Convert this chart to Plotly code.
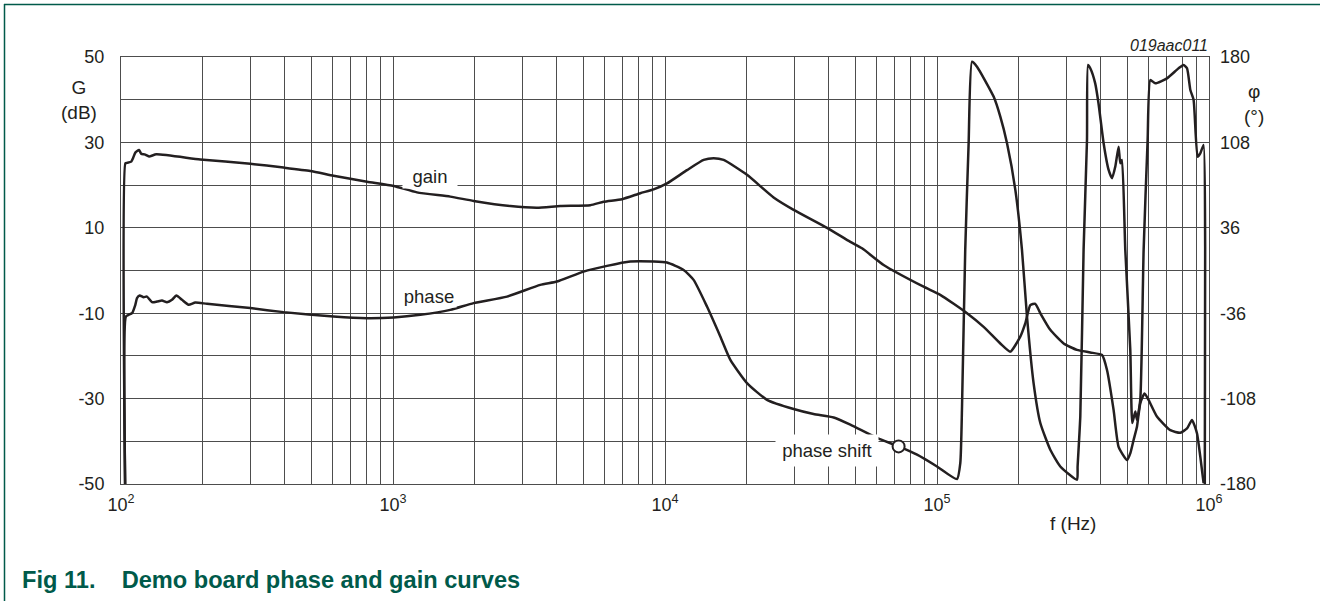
import plotly.graph_objects as go
import math

# ---- data ----
freq_gain = [103.5, 103.8, 105.2, 109.1, 110.7, 112.9, 116.5, 118.8, 122.1, 126.8,
             134.9, 195.6, 298.9, 396, 496.6, 604.7, 802.5, 1005, 1225, 1624,
             1978, 2700, 3384, 4123, 5314, 5948, 6948, 8114, 9081, 10171,
             12044, 13872, 15092, 16425, 20020, 25077, 29710, 39413, 48018, 53000,
             63640, 89270, 102800, 128950, 148400, 170900, 186000, 202400, 211100, 220300,
             229800, 239800, 260900, 292100, 327100, 366000, 404300, 421700, 446000, 465200,
             499400, 513600, 528100, 543500, 558900, 579600, 599500, 643500, 720700, 784500,
             830300, 866000, 903200, 928900, 955200]
gain_db = [-50, 25.1, 25.2, 25.5, 26.3, 27.6, 28.2, 27.3, 27.2, 26.7,
           27.2, 26.0, 25.0, 24.1, 23.3, 22.2, 20.8, 19.8, 18.3, 17.3,
           16.3, 15.1, 14.7, 15.1, 15.3, 16.1, 16.7, 18.1, 19.0, 20.4,
           23.5, 25.9, 26.3, 25.9, 22.4, 17.1, 14.2, 10.0, 6.7, 5.2,
           1.3, -3.8, -5.7, -10.0, -13.2, -17.1, -19.0, -15.5, -12.4, -8.1,
           -7.8, -10.0, -13.9, -17.1, -18.6, -19.2, -19.8, -23.3, -32.7, -41.3,
           -44.4, -42.8, -39.7, -36.6, -31.1, -28.8, -30.3, -34.2, -37.4, -38.0,
           -37.0, -35.0, -38.1, -43.6, -49.8]

freq_phase = [103.6, 104.2, 106.6, 109.8, 112.9, 114.5, 117.1, 121.1, 124.6, 130.0,
              135.6, 141.5, 147.6, 154.0, 159.7, 167.6, 177.3, 187.6, 207.2, 298.9,
              396, 604.7, 802.5, 1005, 1260, 1624, 1978, 2625, 3478, 4009,
              5018, 6120, 7455, 9081, 10171, 11709, 12740, 14270, 15970, 17390,
              20020, 23710, 29710, 35170, 41690, 48018, 60180, 72250, 84450, 100000,
              118450, 121800, 123600, 127000, 130700, 134500, 140300, 161500, 170900, 180900,
              194100, 205300, 214200, 226500, 239800, 260900, 284000, 327100, 328800, 336400,
              345900, 356000, 359000, 366000, 381600, 392400, 409800, 427500, 440000, 452400,
              465200, 471900, 478700, 492300, 513600, 522400, 535800, 543500, 558900, 575000,
              594800, 608500, 634800, 700800, 773200, 806600, 830300, 854000, 877900, 907800,
              928900, 955200, 968000, 965000]
phase_deg = [-180, -38.8, -37.4, -36, -28.9, -23.3, -21.1, -22.5, -22, -26.7,
             -26.2, -25.3, -26.7, -24.7, -21.1, -24.7, -28.9, -27, -28.1, -31.7,
             -35.1, -38.8, -40.2, -39.6, -37.4, -33.2, -27.5, -22, -12.1, -9.3,
             -0.9, 3.9, 7.6, 7.6, 6.7, 0.5, -7.9, -30.4, -55.6, -75.3,
             -94.9, -109, -116.8, -121, -123.9, -130, -141.2, -148.3, -155.3, -165.2,
             -175.8, -162.3, -114.6, 17.4, 107.3, 176, 171.8, 146.6, 129.7, 107.3,
             68, 17.4, -38.8, -94.9, -128.6, -151.1, -165.2, -176.4, -165.2, -123,
             17.4, 110, 173.3, 170.5, 157.8, 141, 107.3, 84.8, 77.8, 87.6,
             104.4, 90.4, 93.2, 17.4, -66.9, -128.6, -118.8, -125.8, -109, 17.4,
             110, 160.6, 157.8, 162, 170.5, 173.3, 170.5, 152.2, 143.8, 96,
             98.8, 105.9, 20, -180]

marker_index = 47  # "phase shift" marker point on the phase curve

decades = [100, 1000, 10000, 100000, 1000000]
x_tick_text = ["10<sup>2</sup>", "10<sup>3</sup>", "10<sup>4</sup>", "10<sup>5</sup>", "10<sup>6</sup>"]
gain_ticks = [-50, -40, -30, -20, -10, 0, 10, 20, 30, 40, 50]
gain_labels = ["-50", "", "-30", "", "-10", "", "10", "", "30", "", "50"]
phase_ticks = [-180, -108, -36, 36, 108, 180]
phase_labels = ["-180", "-108", "-36", "36", "108", "180"]

# ---- layout geometry ----
W, H = 1325, 601
ML, MR, MT, MB = 121, 116, 57, 117
PW, PH = W - ML - MR, H - MT - MB

def px(x):
    return (x - ML) / PW

def py(y):
    return (H - MB - y) / PH

FONT = "Liberation Sans, Arial, sans-serif"
INK = "#231f20"
GRID = "#4d4d4d"
GREEN = "#005a4a"
TICK = 18

x_vals = []
x_text = []
for i, d in enumerate(decades[:-1]):
    for m in range(1, 10):
        x_vals.append(d * m)
        x_text.append(x_tick_text[i] if m == 1 else "")
x_vals.append(decades[-1])
x_text.append(x_tick_text[-1])

LINE = dict(color=INK, width=2.5, shape="spline", smoothing=0.5)

fig = go.Figure()
fig.add_trace(go.Scatter(x=freq_gain, y=gain_db, mode="lines",
                         line=LINE, name="gain", showlegend=False))
fig.add_trace(go.Scatter(x=freq_phase, y=phase_deg, mode="lines", yaxis="y2",
                         line=LINE, name="phase", showlegend=False))
fig.add_trace(go.Scatter(x=[freq_phase[marker_index]], y=[phase_deg[marker_index]], yaxis="y2",
                         mode="markers", showlegend=False,
                         marker=dict(size=12, color="white", line=dict(color=INK, width=2))))

fig.update_layout(
    width=W, height=H,
    margin=dict(l=ML, r=MR, t=MT, b=MB, pad=0, autoexpand=False),
    paper_bgcolor="white", plot_bgcolor="white",
    font=dict(family=FONT, size=TICK, color=INK),
    showlegend=False,
    xaxis=dict(type="log", range=[2, 6], tickvals=x_vals, ticktext=x_text,
               showgrid=True, gridcolor=GRID, gridwidth=1,
               showline=True, linecolor=GRID, linewidth=1, mirror=True,
               ticks="", ticklabelstandoff=4, zeroline=False,
               tickfont=dict(size=TICK, color=INK)),
    yaxis=dict(range=[-50, 50], tickvals=gain_ticks, ticktext=gain_labels,
               showgrid=True, gridcolor=GRID, gridwidth=1,
               showline=True, linecolor=GRID, linewidth=1, mirror=True,
               ticks="", ticklabelstandoff=12, zeroline=False,
               tickfont=dict(size=TICK, color=INK)),
    yaxis2=dict(range=[-180, 180], tickvals=phase_ticks, ticktext=phase_labels,
                overlaying="y", side="right",
                showgrid=False, zeroline=False, showline=False, ticks="",
                ticklabelstandoff=10, tickfont=dict(size=TICK, color=INK)),
)

C = dict(xanchor="center", yanchor="middle", showarrow=False)
ann = []
# curve labels with white boxes
ann.append(dict(x=math.log10(1371), y=22.0, xref="x", yref="y", text="gain",
                bgcolor="white", width=52, height=21,
                font=dict(size=18.5, color=INK), **C))
ann.append(dict(x=math.log10(1360), y=-6.0, xref="x", yref="y", text="phase",
                bgcolor="white", width=52, height=20,
                font=dict(size=18.5, color=INK), **C))
ann.append(dict(x=px(827), y=py(450.5), xref="paper", yref="paper", text="phase shift",
                bgcolor="white", width=100, height=29,
                font=dict(size=18.5, color=INK), **C))
# axis titles
ann.append(dict(x=px(79), y=py(100), xref="paper", yref="paper", text="G<br>(dB)",
                font=dict(size=19, color=INK), align="center", **C))
ann.append(dict(x=px(1254), y=py(104), xref="paper", yref="paper", text="φ<br>(°)",
                font=dict(size=19, color=INK), align="center", **C))
ann.append(dict(x=px(1073), y=py(523), xref="paper", yref="paper", text="f (Hz)",
                font=dict(size=19, color=INK), **C))
ann.append(dict(x=px(1210), y=py(46), xref="paper", yref="paper", text="<i>019aac011</i>",
                showarrow=False, xanchor="right", yanchor="middle",
                font=dict(size=16, color=INK)))
# caption
ann.append(dict(x=px(20), y=py(580), xref="paper", yref="paper",
                text="<b>Fig 11.    Demo board phase and gain curves</b>",
                showarrow=False, xanchor="left", yanchor="middle",
                font=dict(size=23.6, color=GREEN)))
fig.update_layout(annotations=ann)

# outer frame (top + left)
fig.add_shape(type="line", xref="paper", yref="paper", x0=px(4), x1=px(1320),
              y0=py(4.5), y1=py(4.5), line=dict(color=GREEN, width=1.5), layer="above")
fig.add_shape(type="line", xref="paper", yref="paper", x0=px(4.5), x1=px(4.5),
              y0=py(4), y1=py(601), line=dict(color=GREEN, width=1.5), layer="above")

fig.write_html("out.html", config={"displayModeBar": False},
               post_script="document.body.style.margin='0';document.body.style.padding='0';")
